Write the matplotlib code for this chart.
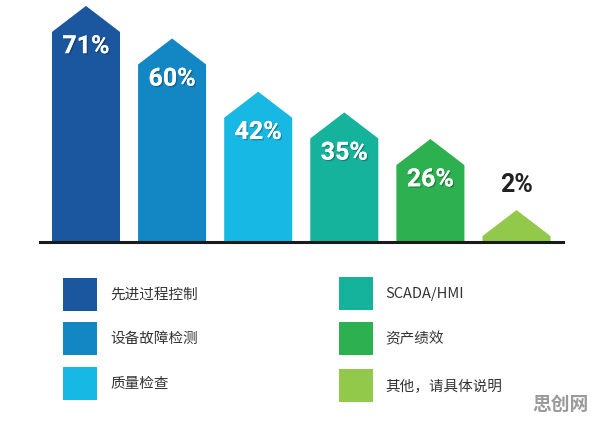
import matplotlib
matplotlib.use("Agg")
import matplotlib.pyplot as plt
from matplotlib.patches import Polygon, Rectangle
import matplotlib.patheffects as pe

plt.rcParams['font.family'] = ['Noto Sans CJK SC', 'DejaVu Sans']

categories = ["先进过程控制", "设备故障检测", "质量检查", "SCADA/HMI", "资产绩效", "其他，请具体说明"]
values = [71, 60, 42, 35, 26, 2]
labels = ["71%", "60%", "42%", "35%", "26%", "2%"]
colors = ["#1B579E", "#1387C4", "#17B9E4", "#16B39C", "#2DB04F", "#93C94B"]

W, H = 596, 424
fig = plt.figure(figsize=(W / 100, H / 100), dpi=100)
fig.patch.set_facecolor("white")

# bar axes (pixel layout)
left_px, right_px, base_px, top_px = 40, 563, 242, 0
ax = fig.add_axes([left_px / W, 1 - base_px / H, (right_px - left_px) / W, (base_px - top_px) / H])
ax.set_xlim(-0.534, 5.54)
ax.set_ylim(0, 81.8)
ax.axis("off")

bw = 0.79
tri = 8.8
for i, (v, c, lab) in enumerate(zip(values, colors, labels)):
    x0, x1 = i - bw / 2, i + bw / 2
    poly = Polygon([(x0, 0), (x0, v), (i, v + tri), (x1, v), (x1, 0)],
                   closed=True, facecolor=c, edgecolor="none")
    ax.add_patch(poly)
    if v > 10:
        t = ax.text(i, v - 4.8, lab, ha="center", va="center", color="white",
                    fontsize=18, fontweight="bold", family=["Roboto", "DejaVu Sans"])
        t.set_path_effects([pe.withSimplePatchShadow(offset=(1, -1), shadow_rgbFace="#000000", alpha=0.25),
                            pe.Normal()])
    else:
        ax.text(i, v + tri + 8.5, lab, ha="center", va="center", color="#222222",
                fontsize=18, fontweight="bold", family=["Roboto", "DejaVu Sans"])

ax.axhline(0, xmin=0, xmax=1, color="#1a1a1a", linewidth=2.2, clip_on=False)

# legend in pixel coordinates
lax = fig.add_axes([0, 0, 1, 1])
lax.set_xlim(0, W)
lax.set_ylim(H, 0)
lax.axis("off")
lax.patch.set_alpha(0)

col_x = [63, 339]
text_x = [110, 385]
row_y = [[278, 322, 367], [277, 322, 369]]
sq = 34
for i, (cat, c) in enumerate(zip(categories, colors)):
    col = i // 3
    row = i % 3
    x = col_x[col]
    y = row_y[col][row]
    lax.add_patch(Rectangle((x, y), sq, sq - 1, facecolor=c, edgecolor="none"))
    lax.text(text_x[col], y + sq / 2, cat, ha="left", va="center", color="#333333",
             fontsize=10.5)

lax.text(560, 404, "思创网", ha="center", va="center", color="#9a9a9a",
         fontsize=13.5, fontweight="bold")

fig.savefig("out.png", dpi=100, facecolor="white")
